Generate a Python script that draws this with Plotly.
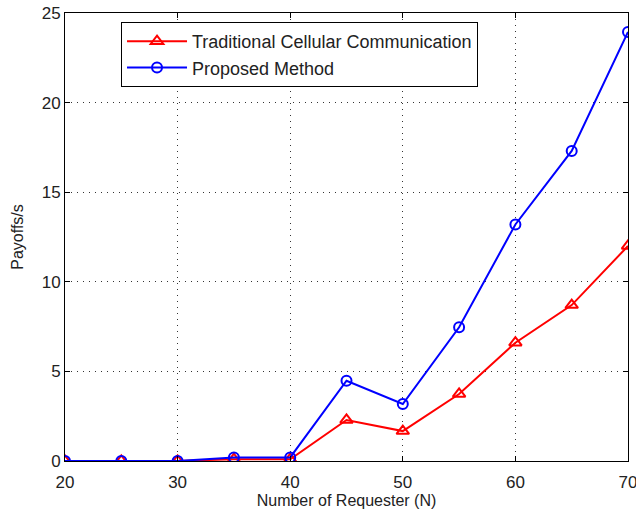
import plotly.graph_objects as go

x_vals = [20, 25, 30, 35, 40, 45, 50, 55, 60, 65, 70]
traditional = [0, 0, 0, 0.1, 0.1, 2.29, 1.67, 3.74, 6.6, 8.7, 12.0]
proposed = [0, 0, 0, 0.2, 0.2, 4.48, 3.18, 7.46, 13.2, 17.3, 23.94]
x_ticks = [20, 30, 40, 50, 60, 70]
y_ticks = [0, 5, 10, 15, 20, 25]

FONT = "Liberation Sans, Arial"
TXT = "#222222"

fig = go.Figure()
fig.add_trace(go.Scatter(x=x_vals, y=traditional, mode="lines+markers",
                         name="Traditional Cellular Communication",
                         line=dict(color="#ff0000", width=2),
                         marker=dict(symbol="triangle-up-open", size=11, color="#ff0000",
                                     line=dict(width=2, color="#ff0000"))))
fig.add_trace(go.Scatter(x=x_vals, y=proposed, mode="lines+markers",
                         name="Proposed Method",
                         line=dict(color="#0000ff", width=2),
                         marker=dict(symbol="circle-open", size=10, color="#0000ff",
                                     line=dict(width=2, color="#0000ff"))))

axis_common = dict(showline=True, linecolor="black", linewidth=1, mirror="ticks",
                   ticks="inside", ticklen=5, tickcolor="black",
                   showgrid=True, gridcolor="#333333", griddash="1px,5px", gridwidth=1,
                   zeroline=False, automargin=False, ticklabeloverflow="allow",
                   tickfont=dict(family=FONT, size=17, color=TXT))

fig.update_xaxes(range=[20, 70], tickvals=x_ticks, ticklabelstandoff=6,
                 title=dict(text="Number of Requester (N)",
                            font=dict(family=FONT, size=16, color=TXT), standoff=2),
                 **axis_common)
fig.update_yaxes(range=[0, 25], tickvals=y_ticks, title=dict(text="Payoffs/s",
                 font=dict(family=FONT, size=16, color=TXT), standoff=14),
                 **axis_common)

fig.update_layout(width=636, height=516,
                  margin=dict(l=65, r=8, t=13, b=55),
                  plot_bgcolor="white", paper_bgcolor="white",
                  legend=dict(x=0.0995, y=0.98, xanchor="left", yanchor="top",
                              bgcolor="white", bordercolor="black", borderwidth=1,
                              font=dict(family=FONT, size=18, color=TXT),
                              tracegroupgap=0, itemwidth=60),
                  showlegend=True)

fig.write_html("out.html", config={"displayModeBar": False},
               post_script="document.body.style.margin='0';")
